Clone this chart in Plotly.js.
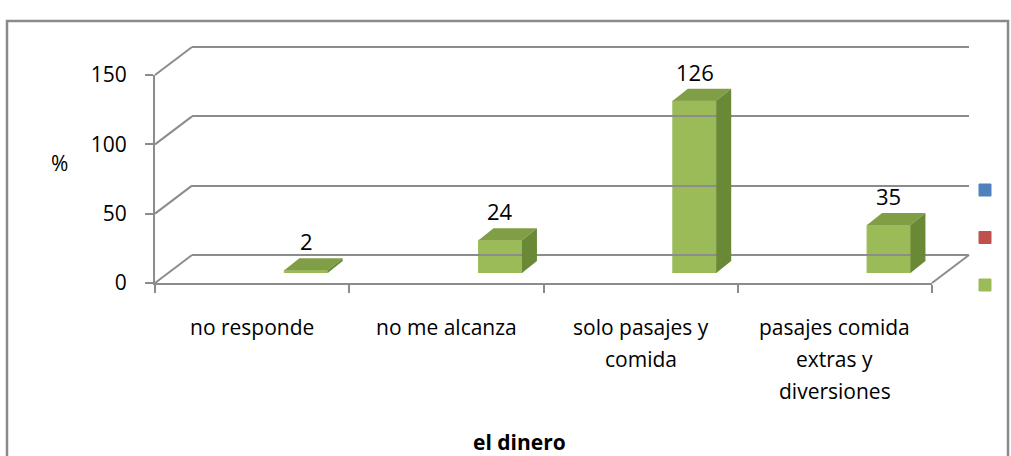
<!DOCTYPE html>
<html><head><meta charset="utf-8">
<script src="https://cdn.plot.ly/plotly-3.0.1.min.js"></script>
<style>html,body{margin:0;padding:0;background:#fff;overflow:hidden}#chart{width:1011px;height:456px}</style>
</head><body><div id="chart"></div>
<script>
// ---- data ----
const categories = ['no responde', 'no me alcanza', 'solo pasajes y comida', 'pasajes comida extras y diversiones'];
const categoryLabels = ['no responde', 'no me alcanza', 'solo pasajes y<br>comida', 'pasajes comida<br>extras y<br>diversiones'];
const serie1 = [null, null, null, null];
const serie2 = [null, null, null, null];
const serie3 = [2, 24, 126, 35];
const yTicks = [0, 50, 100, 150];
const yTitle = '%';
const xTitle = 'el dinero';

// ---- geometry (pixels of the 1011x456 page) ----
const W = 1011, H = 456;
const px = x => x / W, py = y => 1 - y / H;
const FX0 = 155, FX1 = 932, FY0 = 283, FY150 = 75;      // front plane
const DX = 37, DY = 28;                                   // depth of floor/wall
const BDX = 10.5, BY0 = 273, BPPU = 1.368;                // bar plane
const FACEX = 15, FACEY = 12;                             // bar depth faces
const YMAX = 150;
const BARGAP = 0.33;
const FONT = 'Open Sans, Noto Sans, sans-serif';
const GRID = '#8c8c8c';
const TXT = '#000';

const yF = v => FY0 - v * (FY0 - FY150) / YMAX;
const yB = v => yF(v) - DY;

const catW = (FX1 - FX0) / categories.length;
const bw = (1 - BARGAP) / 3;
const dxu = FACEX / catW, dyu = FACEY / BPPU;

const traces = [
  {type: 'bar', x: categories, y: serie1, name: ' ', marker: {color: '#4F81BD', line: {color: '#4F81BD', width: 1}}, xaxis: 'x2', yaxis: 'y2', legendgroup: 'a', hoverinfo: 'skip'},
  {type: 'bar', x: categories, y: serie2, name: ' ', marker: {color: '#C0504D', line: {color: '#C0504D', width: 1}}, xaxis: 'x2', yaxis: 'y2', legendgroup: 'b', hoverinfo: 'skip'},
  {type: 'bar', x: categories, y: serie3, name: ' ', marker: {color: '#9BBB59', line: {color: '#9BBB59', width: 1}}, xaxis: 'x2', yaxis: 'y2', legendgroup: 'c', hoverinfo: 'skip'},
  {type: 'scatter', mode: 'markers', x: categories, y: categories.map(() => 0), marker: {opacity: 0}, showlegend: false, hoverinfo: 'skip', xaxis: 'x', yaxis: 'y'},
  {type: 'scatter', mode: 'markers', x: [0], y: [0], marker: {opacity: 0}, showlegend: false, hoverinfo: 'skip', xaxis: 'x3', yaxis: 'y3'}
];

const shapes = [];
// outer frame
shapes.push({type: 'rect', xref: 'paper', yref: 'paper', x0: px(7), x1: px(1008), y0: py(21), y1: py(470),
  line: {color: '#8a8a8a', width: 2.5}, layer: 'below'});
// wall connectors from front ticks to back gridlines
yTicks.forEach(v => {
  shapes.push({type: 'line', xref: 'paper', yref: 'paper', x0: px(FX0), y0: py(yF(v)), x1: px(FX0 + DX), y1: py(yB(v)),
    line: {color: GRID, width: 2}, layer: 'below'});
});
// floor right edge
shapes.push({type: 'line', xref: 'paper', yref: 'paper', x0: px(FX1), y0: py(FY0), x1: px(FX1 + DX), y1: py(FY0 - DY),
  line: {color: GRID, width: 2}, layer: 'below'});
// bar top and side faces
serie3.forEach((v, i) => {
  if (v == null) return;
  const c = i + bw;
  const xL = c - bw / 2, xR = c + bw / 2;
  shapes.push({type: 'path', xref: 'x2', yref: 'y2', layer: 'above', line: {width: 0}, fillcolor: '#7F9E46',
    path: `M${xL},${v} L${xR},${v} L${xR + dxu},${v + dyu} L${xL + dxu},${v + dyu} Z`});
  shapes.push({type: 'path', xref: 'x2', yref: 'y2', layer: 'above', line: {width: 0}, fillcolor: '#6A8937',
    path: `M${xR},0 L${xR},${v} L${xR + dxu},${v + dyu} L${xR + dxu},${dyu} Z`});
});

const annotations = [];
serie3.forEach((v, i) => {
  if (v == null) return;
  annotations.push({xref: 'x2', yref: 'y2', x: i + bw, y: v, text: String(v), showarrow: false,
    xanchor: 'center', yanchor: 'bottom', yshift: 12, font: {family: FONT, size: 22, color: TXT}});
});
categoryLabels.forEach((lab, i) => {
  lab.split('<br>').forEach((line, j) => {
    annotations.push({xref: 'x', yref: 'paper', x: i, y: py(327 + 32 * j), text: line, showarrow: false,
      xanchor: 'center', yanchor: 'middle', font: {family: FONT, size: 21, color: TXT}});
  });
});
annotations.push({xref: 'paper', yref: 'paper', x: px(59), y: py(163), text: yTitle, showarrow: false,
  xanchor: 'center', yanchor: 'middle', font: {family: FONT, size: 21, color: TXT}});
annotations.push({xref: 'paper', yref: 'paper', x: px(519), y: py(442), text: '<b>' + xTitle + '</b>', showarrow: false,
  xanchor: 'center', yanchor: 'middle', font: {family: FONT, size: 21, color: TXT}});

const layout = {
  width: W, height: H,
  margin: {l: 0, r: 0, t: 0, b: 0, autoexpand: false},
  paper_bgcolor: '#fff', plot_bgcolor: 'rgba(0,0,0,0)',
  font: {family: FONT, size: 20, color: TXT},
  barmode: 'group', bargap: BARGAP, bargroupgap: 0,
  showlegend: true,
  legend: {x: px(965), y: py(175.5), xanchor: 'left', yanchor: 'top', font: {size: 12}, tracegroupgap: 28.5,
    traceorder: 'grouped', bgcolor: 'rgba(0,0,0,0)'},
  xaxis: {type: 'category', domain: [px(FX0), px(FX1)], anchor: 'y', range: [-0.5, categories.length - 0.5],
    categoryorder: 'array', categoryarray: categories,
    tickson: 'boundaries', ticks: 'outside', ticklen: 8, tickwidth: 2, tickcolor: GRID,
    showticklabels: false, showline: true, linecolor: GRID, linewidth: 2, showgrid: false, zeroline: false, fixedrange: true},
  yaxis: {domain: [py(FY0), py(FY150)], anchor: 'x', range: [0, YMAX], tickvals: yTicks,
    ticks: 'outside', ticklen: 8, tickwidth: 2, tickcolor: GRID, ticklabelstandoff: 14,
    tickfont: {family: FONT, size: 21, color: TXT},
    showline: true, linecolor: GRID, linewidth: 2, showgrid: false, zeroline: false, fixedrange: true},
  xaxis2: {type: 'category', domain: [px(FX0 + BDX), px(FX1 + BDX)], anchor: 'y2', range: [-0.5, categories.length - 0.5],
    categoryorder: 'array', categoryarray: categories, visible: false, fixedrange: true},
  yaxis2: {domain: [py(BY0), py(BY0 - YMAX * BPPU)], anchor: 'x2', range: [0, YMAX], visible: false, fixedrange: true},
  xaxis3: {domain: [px(FX0 + DX), px(FX1 + DX)], anchor: 'y3', range: [0, 1], visible: false, fixedrange: true},
  yaxis3: {domain: [py(yB(-2)), py(yB(YMAX + 2))], anchor: 'x3', range: [-2, YMAX + 2], tickvals: yTicks,
    showgrid: true, gridcolor: GRID, gridwidth: 2, showticklabels: false, ticks: '', showline: false,
    zeroline: false, fixedrange: true},
  shapes: shapes,
  annotations: annotations
};

Plotly.newPlot('chart', traces, layout, {displayModeBar: false, staticPlot: true});
</script>
</body></html>
